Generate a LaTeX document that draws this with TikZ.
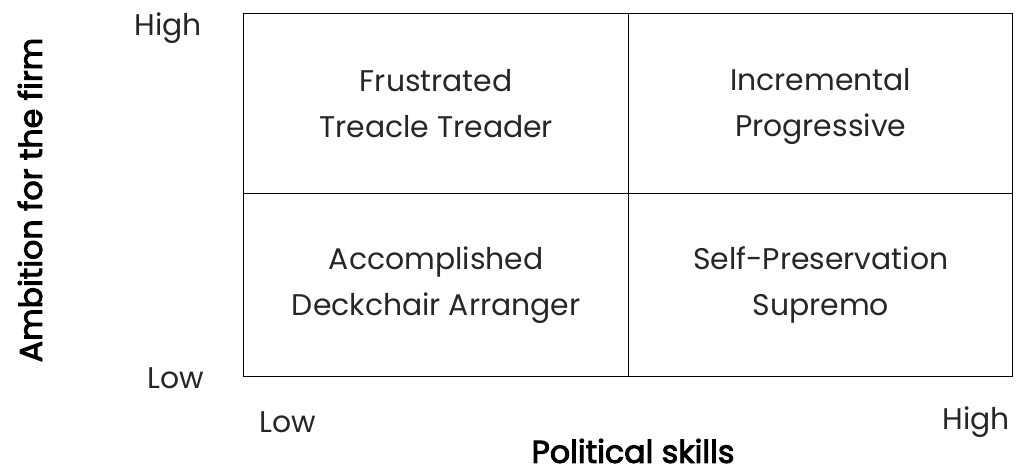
\documentclass[tikz,border=0pt]{standalone}
\usepackage{fontspec}
\setmainfont{Poppins}
\newfontfamily\axisfont{Poppins}[FakeBold=3]
\usepackage{tikz}
\usetikzlibrary{positioning}

\begin{document}
\begin{tikzpicture}[x=0.02cm,y=-0.02cm,
  quad/.style={align=center,font=\fontsize{17}{26}\selectfont,text=black!85},
  tick/.style={font=\fontsize{17}{20}\selectfont,text=black!85},
  axis/.style={font=\fontsize{18}{20}\axisfont}]
  \useasboundingbox (0,0) rectangle (1016,473);
  \node[draw,thick,minimum width=385*0.02cm,minimum height=180*0.02cm,anchor=north west,inner sep=0] (tl) at (243,13) {};
  \node[draw,thick,minimum width=384*0.02cm,minimum height=180*0.02cm,anchor=north west,inner sep=0] (tr) at (628,13) {};
  \node[draw,thick,minimum width=385*0.02cm,minimum height=183*0.02cm,anchor=north west,inner sep=0] (bl) at (243,193) {};
  \node[draw,thick,minimum width=384*0.02cm,minimum height=183*0.02cm,anchor=north west,inner sep=0] (br) at (628,193) {};
  \node[quad] (frus) at (tl.center) {Frustrated\\Treacle Treader};
  \node[quad] (incr) at ([yshift=-3*0.02cm]tr.center) {Incremental\\Progressive};
  \node[quad] (acco) at (bl.center) {Accomplished\\Deckchair Arranger};
  \node[quad] (self) at (br.center) {Self-Preservation\\Supremo};
  \node[tick] (yhigh) at (168,28) {High};
  \node[tick] (ylow) at (176,378) {Low};
  \node[tick] (xlow) at (288,422) {Low};
  \node[tick] (xhigh) at (976,422) {High};
  \node[axis] (xaxis) at (633,451) {Political skills};
  \node[axis,rotate=90] (yaxis) at (30,200) {Ambition for the firm};
\end{tikzpicture}
\end{document}
